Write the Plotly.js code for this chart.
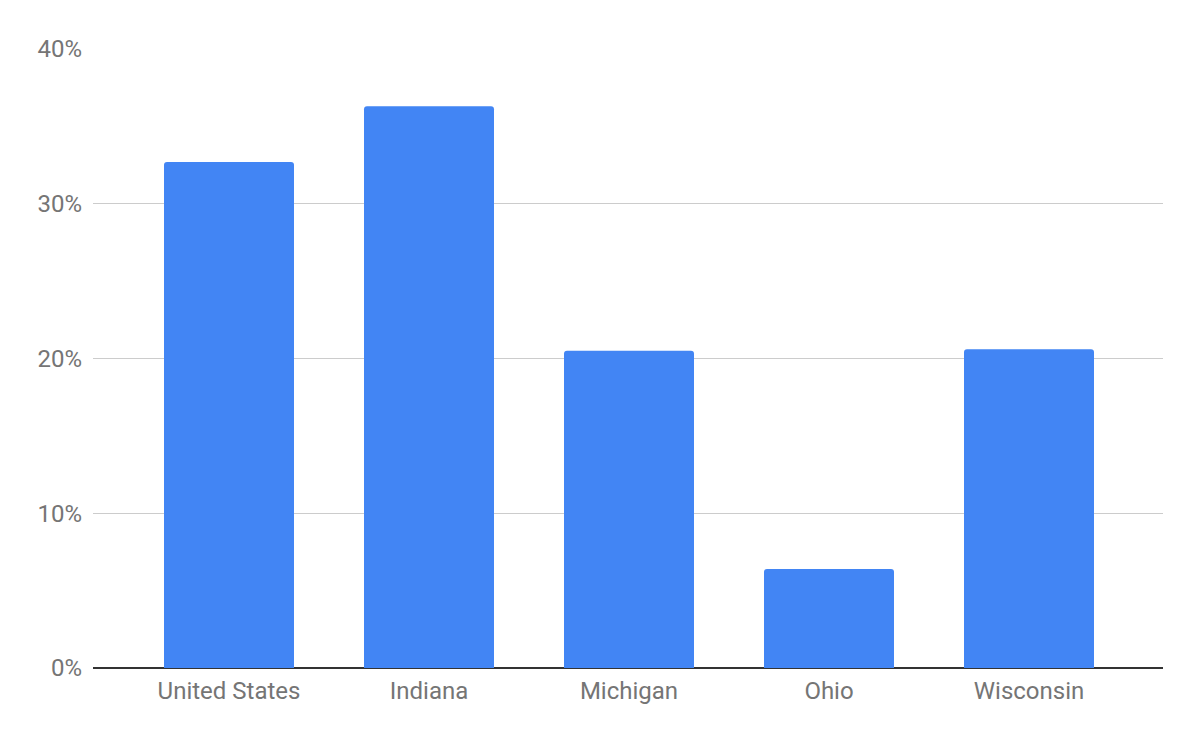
<!DOCTYPE html>
<html><head><meta charset="utf-8">
<script src="https://cdn.plot.ly/plotly-3.0.1.min.js"></script>
<style>body{margin:0;background:#fff}#c{width:1200px;height:742px}</style>
</head><body><div id="c"></div>
<script>
const categories = ["United States", "Indiana", "Michigan", "Ohio", "Wisconsin"];
const values = [0.327, 0.363, 0.205, 0.064, 0.206];
const yTickVals = [0, 0.1, 0.2, 0.3, 0.4];
const yTickText = ["0%", "10%", "20%", "30%", "40%"];

Plotly.newPlot('c', [{
  type: 'bar', x: categories, y: values,
  marker: {color: '#4285F4', cornerradius: 3},
  width: 0.65, hoverinfo: 'none'
}], {
  width: 1200, height: 742,
  margin: {l: 93, r: 37, t: 49, b: 74},
  paper_bgcolor: '#fff', plot_bgcolor: '#fff',
  font: {family: 'Roboto, sans-serif', size: 24, color: '#757575'},
  showlegend: false,
  xaxis: {range: [-0.68, 4.67], showgrid: false, showline: false, zeroline: false,
          ticks: '', ticklabelstandoff: 6, fixedrange: true},
  yaxis: {range: [0, 0.4], tickvals: yTickVals, ticktext: yTickText,
          showgrid: true, gridcolor: '#cccccc', gridwidth: 1,
          zeroline: true, zerolinecolor: '#333333', zerolinewidth: 2,
          showline: false, ticks: '', ticklabelstandoff: 10, fixedrange: true}
}, {staticPlot: true});
</script></body></html>
